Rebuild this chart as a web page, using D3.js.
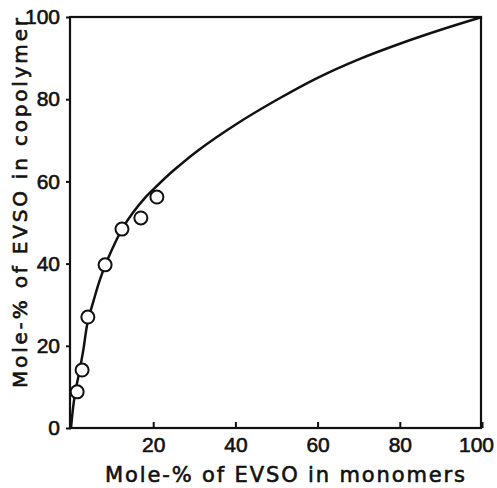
<!DOCTYPE html>
<html>
<head>
<meta charset="utf-8">
<script src="https://cdn.jsdelivr.net/npm/d3@7"></script>
<style>
  body { margin: 0; background: #fff; }
  svg { font-family: "DejaVu Sans", sans-serif; }
  svg text { fill: #111; stroke: #111; stroke-width: 0.6; }
  .tick text { font-size: 21px; }
  .tick line { stroke: #111; stroke-width: 2; }
</style>
</head>
<body>
<svg width="497" height="488"></svg>
<script>
// measured points (mole-% EVSO in monomers vs. in copolymer)
var pointX = [1.5, 2.7, 4.1, 8.3, 12.4, 17.0, 20.9];
var pointY = [8.8, 14.1, 27.0, 39.7, 48.4, 51.1, 56.2];

// smooth curve
var curveX = [0, 0.4, 1, 2, 3, 4, 5.5, 7, 8.5, 10, 12.5, 15, 18, 21, 25, 31, 40, 50, 60, 70, 80, 90, 100];
var curveY = [0, 4, 8.5, 13.5, 19, 25.5, 31, 36, 40, 43.5, 48.5, 52.3, 56, 59, 62.7, 67.6, 73.8, 79.8, 85.2, 89.7, 93.5, 96.9, 100];

var xTicks = [20, 40, 60, 80, 100];
var yTicks = [0, 20, 40, 60, 80, 100];

var svg = d3.select("svg");

var x = d3.scaleLinear().domain([0, 100]).range([71, 482]);
var y = d3.scaleLinear().domain([0, 100]).range([428, 17]);

// x axis, ticks pointing up into the plot
var gx = svg.append("g")
    .attr("transform", "translate(0," + y(0) + ")")
    .call(d3.axisBottom(x).tickValues(xTicks).tickSize(-6).tickPadding(9));
gx.select(".domain").remove();
// last label sits a bit inside the page edge
gx.selectAll(".tick text").filter(function(d) { return d === 100; }).attr("dx", -6);

// y axis, ticks pointing out
var gy = svg.append("g")
    .attr("transform", "translate(" + x(0) + ",0)")
    .call(d3.axisLeft(y).tickValues(yTicks).tickSize(5).tickPadding(6));
gy.select(".domain").remove();

// box round the plot
svg.append("rect")
    .attr("x", x(0) - 1)
    .attr("y", y(100))
    .attr("width", x(100) - x(0))
    .attr("height", y(0) - y(100))
    .attr("fill", "none")
    .attr("stroke", "#111")
    .attr("stroke-width", 2.2);

var curve = curveX.map(function(d, i) { return [d, curveY[i]]; });

var line = d3.line()
    .curve(d3.curveCatmullRom.alpha(0.5))
    .x(function(d) { return x(d[0]); })
    .y(function(d) { return y(d[1]); });

svg.append("path")
    .datum(curve)
    .attr("d", line)
    .attr("fill", "none")
    .attr("stroke", "#111")
    .attr("stroke-width", 2.5);

var pts = pointX.map(function(d, i) { return [d, pointY[i]]; });

svg.selectAll("circle.pt")
    .data(pts)
  .enter().append("circle")
    .attr("class", "pt")
    .attr("cx", function(d) { return x(d[0]); })
    .attr("cy", function(d) { return y(d[1]); })
    .attr("r", 6.5)
    .attr("fill", "#fff")
    .attr("stroke", "#111")
    .attr("stroke-width", 2);

// axis titles
svg.append("text")
    .attr("x", 285)
    .attr("y", 482)
    .attr("text-anchor", "middle")
    .attr("font-size", 21)
    .attr("textLength", 360)
    .attr("lengthAdjust", "spacing")
    .text("Mole-% of EVSO in monomers");

svg.append("text")
    .attr("transform", "translate(27,203) rotate(-90)")
    .attr("text-anchor", "middle")
    .attr("font-size", 20)
    .attr("textLength", 370)
    .attr("lengthAdjust", "spacing")
    .text("Mole-% of EVSO in copolymer");
</script>
</body>
</html>
